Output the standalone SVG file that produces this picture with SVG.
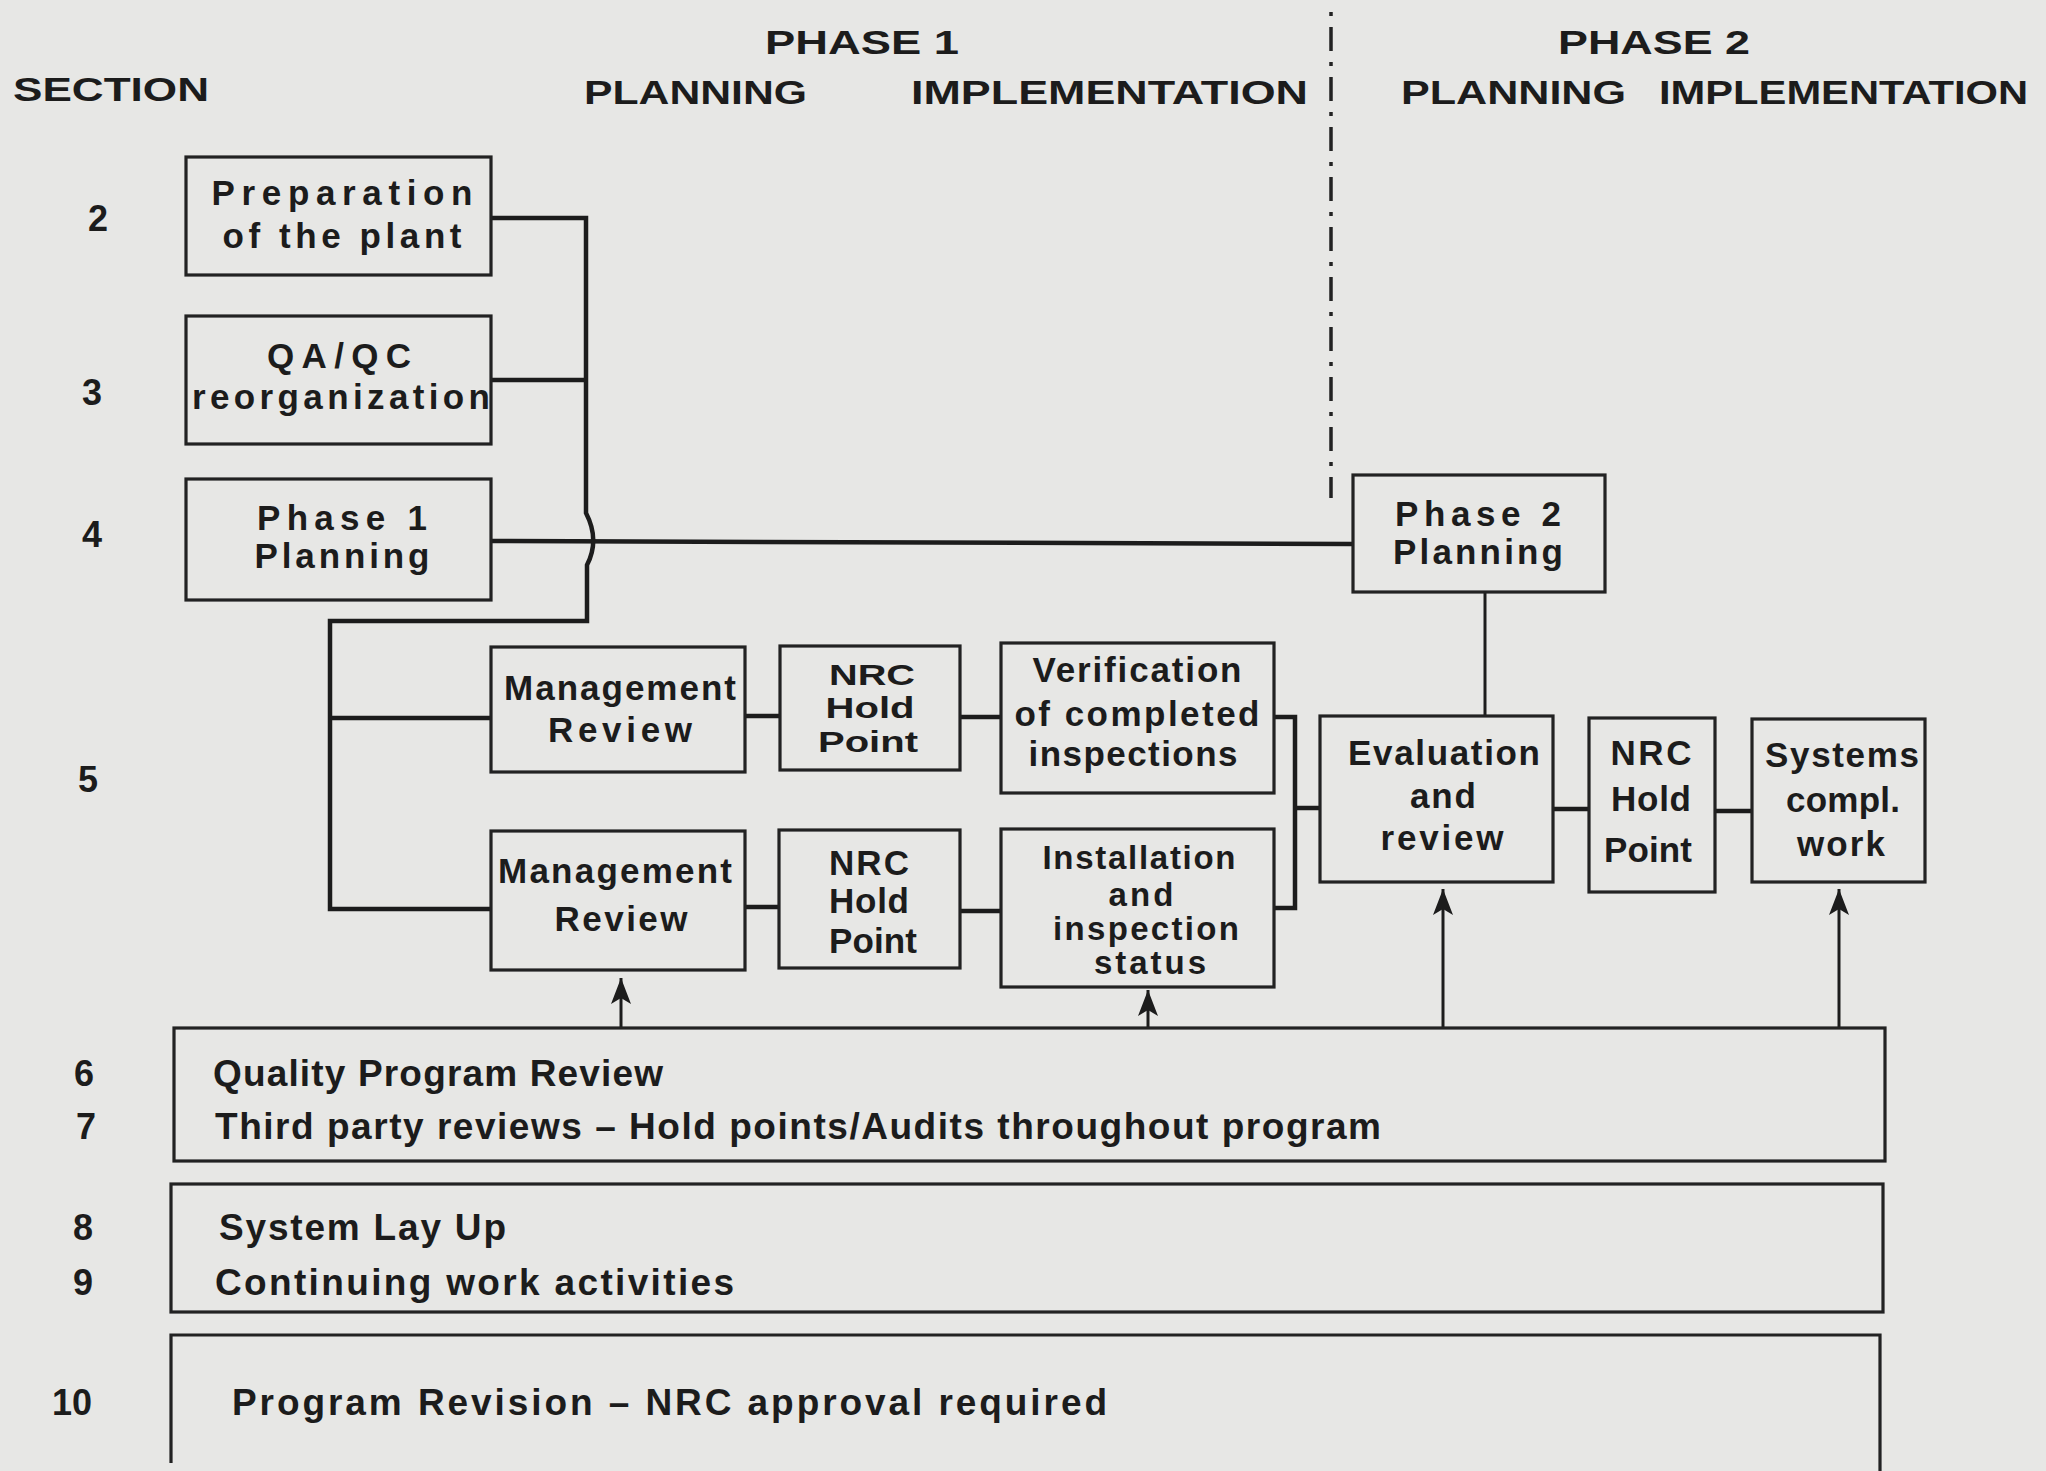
<svg xmlns="http://www.w3.org/2000/svg" width="2046" height="1471" viewBox="0 0 2046 1471">
<defs>
<style>
.bg{fill:#e7e7e5}
.box{fill:none;stroke:#222;stroke-width:3.2}
.conn{fill:none;stroke:#1c1c1c;stroke-width:4.5;stroke-linejoin:miter}
.thin{fill:none;stroke:#1c1c1c;stroke-width:3}
.div{fill:none;stroke:#222;stroke-width:3.5;stroke-dasharray:4 11 24 11}
text{font-family:"Liberation Sans",Arial,sans-serif;font-weight:bold;fill:#1c1c1c}
.t{font-size:35px;text-anchor:middle}
.s{font-size:33px;text-anchor:middle}
.x{font-size:30px;text-anchor:middle}
.h{font-size:34px}
.n{font-size:36px}
.l{font-size:37px}
</style>
<marker id="ah" markerUnits="userSpaceOnUse" markerWidth="30" markerHeight="24" viewBox="-28 -12 30 24" refX="0" refY="0" orient="auto">
<path d="M0,0 L-26,-10 L-20,0 L-26,10 Z" fill="#1c1c1c"/>
</marker>
</defs>
<rect class="bg" x="0" y="0" width="2046" height="1471"/>

<g id="headers">
<text class="h" x="13" y="101" textLength="196" lengthAdjust="spacingAndGlyphs">SECTION</text>
<text class="h" x="765" y="54" textLength="194" lengthAdjust="spacingAndGlyphs">PHASE 1</text>
<text class="h" x="584" y="104" textLength="223" lengthAdjust="spacingAndGlyphs">PLANNING</text>
<text class="h" x="911" y="104" textLength="397" lengthAdjust="spacingAndGlyphs">IMPLEMENTATION</text>
<text class="h" x="1558" y="54" textLength="192" lengthAdjust="spacingAndGlyphs">PHASE 2</text>
<text class="h" x="1401" y="104" textLength="225" lengthAdjust="spacingAndGlyphs">PLANNING</text>
<text class="h" x="1659" y="104" textLength="369" lengthAdjust="spacingAndGlyphs">IMPLEMENTATION</text>
<path class="div" d="M1331,12 V498"/>
</g>

<g id="section-numbers">
<text class="n" x="88" y="231">2</text>
<text class="n" x="82" y="405">3</text>
<text class="n" x="82" y="547">4</text>
<text class="n" x="78" y="792">5</text>
<text class="n" x="74" y="1086">6</text>
<text class="n" x="76" y="1139">7</text>
<text class="n" x="73" y="1240">8</text>
<text class="n" x="73" y="1295">9</text>
<text class="n" x="52" y="1415">10</text>
</g>

<g id="connectors">
<path class="conn" d="M491,218 H586 V513 Q600,540 587,565 V621 H330 V909 H491"/>
<path class="conn" d="M491,380 H586"/>
<path class="conn" d="M491,541 L1353,544"/>
<path class="conn" d="M330,718 H491"/>
<path class="conn" d="M745,716 H780"/>
<path class="conn" d="M960,717 H1001"/>
<path class="conn" d="M745,907 H779"/>
<path class="conn" d="M960,911 H1001"/>
<path class="conn" d="M1274,717 H1295 V908 H1274"/>
<path class="conn" d="M1295,808 H1320"/>
<path class="thin" d="M1485,592 V716"/>
<path class="conn" d="M1553,809 H1589"/>
<path class="conn" d="M1715,811 H1752"/>
<path class="thin" d="M621,1028 V978" marker-end="url(#ah)"/>
<path class="thin" d="M1148,1028 V990" marker-end="url(#ah)"/>
<path class="thin" d="M1443,1028 V889" marker-end="url(#ah)"/>
<path class="thin" d="M1839,1028 V889" marker-end="url(#ah)"/>
</g>

<g id="prep">
<rect class="box" x="186" y="157" width="305" height="118"/>
<text class="t" x="342" y="205" textLength="261">Preparation</text>
<text class="t" x="342" y="248" textLength="239">of the plant</text>
</g>
<g id="qaqc">
<rect class="box" x="186" y="316" width="305" height="128"/>
<text class="t" x="339" y="368" textLength="144">QA/QC</text>
<text class="t" x="341" y="409" textLength="298">reorganization</text>
</g>
<g id="phase1">
<rect class="box" x="186" y="479" width="305" height="121"/>
<text class="t" x="342" y="530" textLength="170">Phase 1</text>
<text class="t" x="342" y="568" textLength="175">Planning</text>
</g>
<g id="phase2">
<rect class="box" x="1353" y="475" width="252" height="117"/>
<text class="t" x="1478" y="526" textLength="166">Phase 2</text>
<text class="t" x="1478" y="564" textLength="170">Planning</text>
</g>
<g id="mr1">
<rect class="box" x="491" y="647" width="254" height="125"/>
<text class="t" x="620" y="700" textLength="232">Management</text>
<text class="t" x="620" y="742" textLength="144">Review</text>
</g>
<g id="nrc1">
<rect class="box" x="780" y="646" width="180" height="124"/>
<text class="x" x="872" y="685" textLength="86" lengthAdjust="spacingAndGlyphs">NRC</text>
<text class="x" x="870" y="718" textLength="89" lengthAdjust="spacingAndGlyphs">Hold</text>
<text class="x" x="868" y="752" textLength="100" lengthAdjust="spacingAndGlyphs">Point</text>
</g>
<g id="verif">
<rect class="box" x="1001" y="643" width="273" height="150"/>
<text class="t" x="1137" y="682" textLength="209">Verification</text>
<text class="t" x="1137" y="726" textLength="245">of completed</text>
<text class="t" x="1133" y="766" textLength="209">inspections</text>
</g>
<g id="mr2">
<rect class="box" x="491" y="831" width="254" height="139"/>
<text class="t" x="615" y="883" textLength="234">Management</text>
<text class="t" x="621" y="931" textLength="133">Review</text>
</g>
<g id="nrc2">
<rect class="box" x="779" y="830" width="181" height="138"/>
<text class="t" x="869" y="875" textLength="80">NRC</text>
<text class="t" x="869" y="913" textLength="80">Hold</text>
<text class="t" x="873" y="953" textLength="88">Point</text>
</g>
<g id="install">
<rect class="box" x="1001" y="829" width="273" height="158"/>
<text class="s" x="1139" y="869" textLength="193">Installation</text>
<text class="s" x="1141" y="906" textLength="65">and</text>
<text class="s" x="1146" y="940" textLength="186">inspection</text>
<text class="s" x="1150" y="974" textLength="112">status</text>
</g>
<g id="eval">
<rect class="box" x="1320" y="716" width="233" height="166"/>
<text class="t" x="1444" y="765" textLength="192">Evaluation</text>
<text class="t" x="1443" y="808" textLength="66">and</text>
<text class="t" x="1442" y="850" textLength="123">review</text>
</g>
<g id="nrc3">
<rect class="box" x="1589" y="718" width="126" height="174"/>
<text class="t" x="1651" y="765" textLength="81">NRC</text>
<text class="t" x="1651" y="811" textLength="80">Hold</text>
<text class="t" x="1648" y="862" textLength="88">Point</text>
</g>
<g id="systems">
<rect class="box" x="1752" y="719" width="173" height="163"/>
<text class="t" x="1842" y="767" textLength="154">Systems</text>
<text class="t" x="1843" y="812" textLength="114">compl.</text>
<text class="t" x="1841" y="856" textLength="88">work</text>
</g>

<g id="sec67">
<rect class="box" x="174" y="1028" width="1711" height="133"/>
<text class="l" x="213" y="1086" textLength="450">Quality Program Review</text>
<text class="l" x="215" y="1139" textLength="1166">Third party reviews – Hold points/Audits throughout program</text>
</g>
<g id="sec89">
<rect class="box" x="171" y="1184" width="1712" height="128"/>
<text class="l" x="219" y="1240" textLength="287">System Lay Up</text>
<text class="l" x="215" y="1295" textLength="519">Continuing work activities</text>
</g>
<g id="sec10">
<path class="box" d="M171,1463 V1335 H1880 V1471"/>
<text class="l" x="232" y="1415" textLength="875">Program Revision – NRC approval required</text>
</g>
</svg>
